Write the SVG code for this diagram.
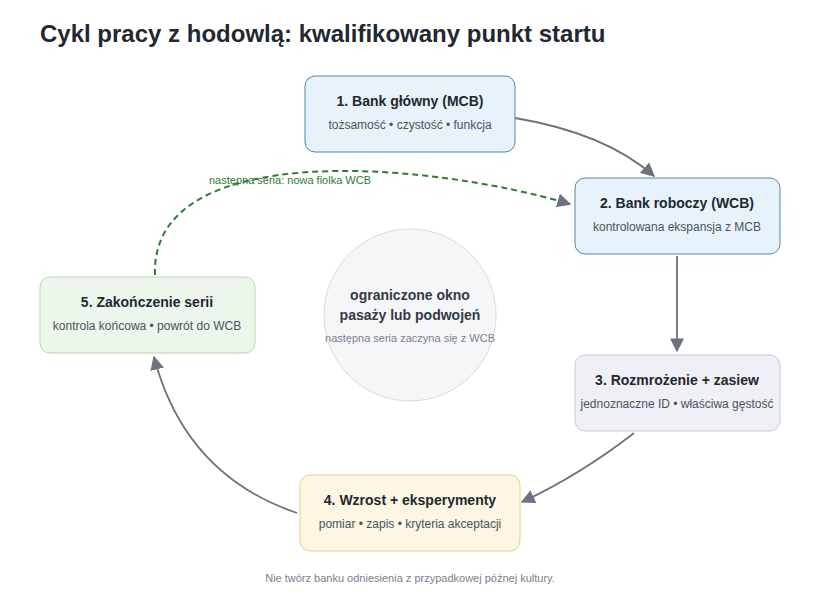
<svg xmlns="http://www.w3.org/2000/svg" width="820" height="600" viewBox="0 0 820 600">
<style>
text{font-family:"Liberation Sans",Arial,sans-serif;text-anchor:middle}
.t{font-size:14px;font-weight:bold;fill:#222831}
.s{font-size:12px;fill:#4a5260}
.c{fill:none;stroke:#6b7280;stroke-width:1.8}
</style>
<defs>
<marker id="a" viewBox="0 0 10 10" refX="9" refY="5" markerWidth="8" markerHeight="8" markerUnits="userSpaceOnUse" orient="auto"><path d="M0,0L10,5L0,10z" fill="#6b7280"/></marker>
<marker id="a2" viewBox="0 0 10 10" refX="9" refY="5" markerWidth="14" markerHeight="14" markerUnits="userSpaceOnUse" orient="auto"><path d="M0,0L10,5L0,10z" fill="#6b7280"/></marker>
</defs>
<rect width="820" height="600" fill="#fff"/>
<text x="40" y="42" style="text-anchor:start;font-size:24px;font-weight:bold;fill:#222831">Cykl pracy z hodowlą: kwalifikowany punkt startu</text>
<g id="center">
<circle cx="410" cy="315" r="86" fill="#f5f6f8" stroke="#d8dbe0"/>
<text x="410" y="300" style="font-size:14px;font-weight:bold;fill:#333a45">ograniczone okno</text>
<text x="410" y="320" style="font-size:14px;font-weight:bold;fill:#333a45">pasaży lub podwojeń</text>
<text x="410" y="342" style="font-size:11px;fill:#7a818c">następna seria zaczyna się z WCB</text>
</g>
<g id="connectors">
<path class="c" d="M515,118 Q605,133 654,176" marker-end="url(#a2)"/>
<path class="c" d="M677,256 L677,351" marker-end="url(#a2)"/>
<path class="c" d="M634,433 Q580,475 522,502" marker-end="url(#a2)"/>
<path class="c" d="M297,513 Q185,475 154,357" marker-end="url(#a2)"/>
<path d="M155,275 C150,140 420,160 570,204" fill="none" stroke="#2f7a36" stroke-width="2" stroke-dasharray="6,4" marker-end="url(#a2)"/>
<text x="290" y="184" style="font-size:11px;fill:#2f7a36">następna seria: nowa fiolka WCB</text>
</g>
<g id="n1"><rect x="305" y="76" width="210" height="76" rx="10" fill="#e8f2fb" stroke="#4f86a8"/>
<text class="t" x="410" y="106">1. Bank główny (MCB)</text><text class="s" x="410" y="129">tożsamość • czystość • funkcja</text></g>
<g id="n2"><rect x="575" y="178" width="205" height="76" rx="10" fill="#e8f2fb" stroke="#4f86a8"/>
<text class="t" x="677" y="208">2. Bank roboczy (WCB)</text><text class="s" x="677" y="231">kontrolowana ekspansja z MCB</text></g>
<g id="n3"><rect x="575" y="355" width="205" height="76" rx="10" fill="#eef0f5" stroke="#c6cbd5"/>
<text class="t" x="677" y="385">3. Rozmrożenie + zasiew</text><text class="s" x="677" y="408">jednoznaczne ID • właściwa gęstość</text></g>
<g id="n4"><rect x="300" y="475" width="220" height="76" rx="10" fill="#fdf6e3" stroke="#e2cf95"/>
<text class="t" x="410" y="505">4. Wzrost + eksperymenty</text><text class="s" x="410" y="528">pomiar • zapis • kryteria akceptacji</text></g>
<g id="n5"><rect x="40" y="277" width="215" height="76" rx="10" fill="#edf6ea" stroke="#b8d8b0"/>
<text class="t" x="147" y="307">5. Zakończenie serii</text><text class="s" x="147" y="330">kontrola końcowa • powrót do WCB</text></g>
<text x="410" y="582" style="font-size:11px;fill:#7a818c">Nie twórz banku odniesienia z przypadkowej późnej kultury.</text>
</svg>
